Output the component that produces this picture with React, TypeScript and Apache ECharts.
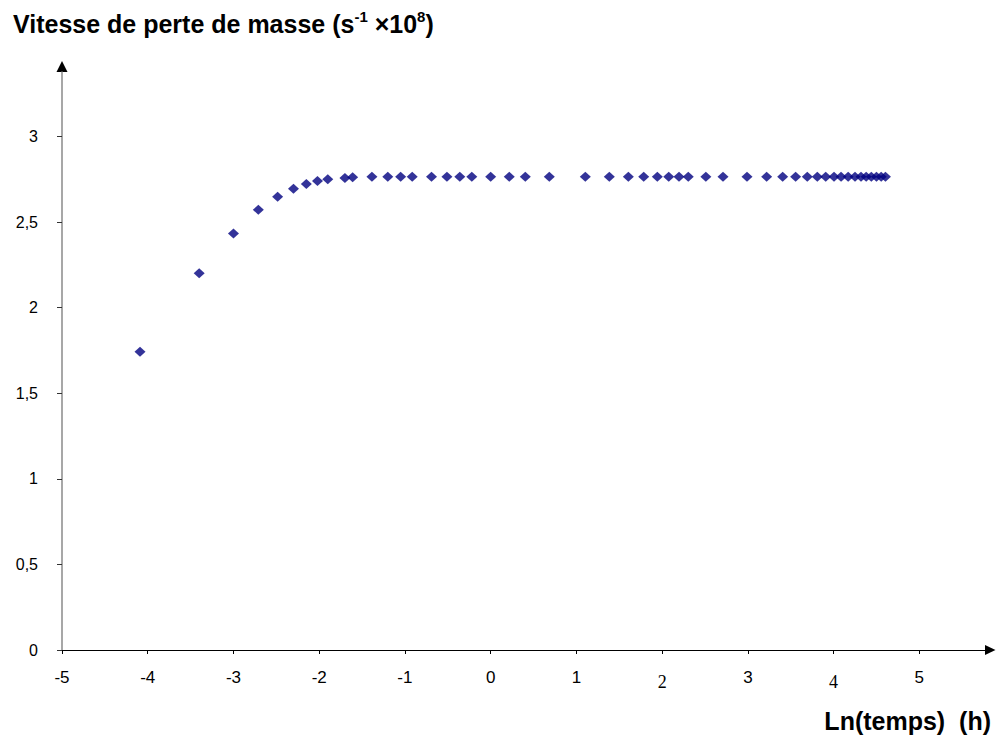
import React, { useEffect, useRef } from "react";
import * as echarts from "echarts";

const xValues: number[] = [
  -4.09, -3.4, -3.0, -2.71, -2.485, -2.3, -2.15, -2.02, -1.9, -1.7, -1.61,
  -1.385, -1.2, -1.05, -0.915, -0.69, -0.51, -0.36, -0.22, 0.0, 0.217, 0.404,
  0.684, 1.104, 1.384, 1.606, 1.785, 1.944, 2.077, 2.197, 2.305, 2.51, 2.71,
  2.99, 3.219, 3.406, 3.557, 3.693, 3.81, 3.908, 4.005, 4.087, 4.17, 4.25,
  4.32, 4.38, 4.44, 4.5, 4.555, 4.605,
];
const yValues: number[] = [
  1.743, 2.201, 2.434, 2.572, 2.648, 2.695, 2.722, 2.74, 2.75, 2.757, 2.762,
  2.765, 2.765, 2.765, 2.765, 2.765, 2.765, 2.765, 2.765, 2.765, 2.765, 2.765,
  2.765, 2.765, 2.765, 2.765, 2.765, 2.765, 2.765, 2.765, 2.765, 2.765, 2.765,
  2.765, 2.765, 2.765, 2.765, 2.765, 2.765, 2.765, 2.765, 2.765, 2.765, 2.765,
  2.765, 2.765, 2.765, 2.765, 2.765, 2.765,
];
const xTicks: number[] = [-5, -4, -3, -2, -1, 0, 1, 2, 3, 4, 5];
const yTicks: number[] = [0, 0.5, 1, 1.5, 2, 2.5, 3];

const titleText = "Vitesse de perte de masse";
const xAxisTitle = "Ln(temps)  (h)";

export default function App() {
  const ref = useRef<HTMLDivElement>(null);
  useEffect(() => {
    if (!ref.current) return;
    const chart = echarts.init(ref.current, null, { renderer: "svg" });
    chart.setOption({
      animation: false,
      backgroundColor: "#ffffff",
      title: {
        left: 8,
        top: 4,
        text: `{a|${titleText} (s}{sup|-1}{a| ×10}{sup|8}{a|)}`,
        textStyle: {
          rich: {
            a: {
              fontFamily: "Liberation Sans",
              fontWeight: "bold",
              fontSize: 25,
              color: "#000",
              lineHeight: 30,
            },
            sup: {
              fontFamily: "Liberation Sans",
              fontWeight: "bold",
              fontSize: 15,
              color: "#000",
              lineHeight: 18,
              verticalAlign: "top",
            },
          },
        },
      },
      grid: {
        left: 62,
        right: 12,
        top: 72,
        bottom: 95,
        containLabel: false,
        outerBoundsMode: "none",
      },
      xAxis: {
        type: "value",
        min: -5,
        max: 5.766,
        axisLine: {
          onZero: false,
          lineStyle: { color: "#000", width: 1 },
        },
        axisTick: {
          show: true,
          length: 4,
          customValues: xTicks,
          lineStyle: { color: "#000" },
        },
        axisLabel: {
          customValues: xTicks,
          margin: 19,
          formatter: (v: number) =>
            v === 2 || v === 4 ? `{s|${v}}` : `{n|${v}}`,
          rich: {
            n: {
              fontFamily: "Liberation Sans",
              fontSize: 17,
              color: "#000",
            },
            s: {
              fontFamily: "Liberation Serif",
              fontSize: 18,
              color: "#000",
              padding: [4, 0, 0, 0],
            },
          },
        },
        splitLine: { show: false },
      },
      yAxis: {
        type: "value",
        min: 0,
        max: 3.377,
        axisLine: {
          show: true,
          onZero: false,
          lineStyle: { color: "#8a8a8a", width: 1.5 },
        },
        axisTick: {
          show: true,
          length: 5,
          customValues: yTicks,
          lineStyle: { color: "#333" },
        },
        axisLabel: {
          customValues: yTicks,
          margin: 24,
          fontFamily: "Liberation Sans",
          fontSize: 16,
          color: "#000",
          formatter: (v: number) => String(v).replace(".", ","),
        },
        splitLine: { show: false },
      },
      graphic: [
        {
          type: "polygon",
          shape: {
            points: [
              [56.5, 72],
              [67.5, 72],
              [62, 61],
            ],
          },
          style: { fill: "#000" },
        },
        {
          type: "polygon",
          shape: {
            points: [
              [985, 645],
              [985, 655],
              [995.5, 650],
            ],
          },
          style: { fill: "#000" },
        },
        {
          type: "text",
          x: 991,
          y: 721,
          style: {
            text: xAxisTitle,
            fontFamily: "Liberation Sans",
            fontWeight: "bold",
            fontSize: 25,
            fill: "#000",
            textAlign: "right",
            textVerticalAlign: "middle",
          },
        },
      ],
      series: [
        {
          type: "scatter",
          data: xValues.map((x, i) => [x, yValues[i]]),
          symbol: "diamond",
          symbolSize: [11, 10],
          itemStyle: { color: "#000080" },
        },
      ],
    });
    return () => chart.dispose();
  }, []);
  return (
    <div
      ref={ref}
      style={{ width: 997, height: 745, position: "absolute", left: 0, top: 0 }}
    />
  );
}
